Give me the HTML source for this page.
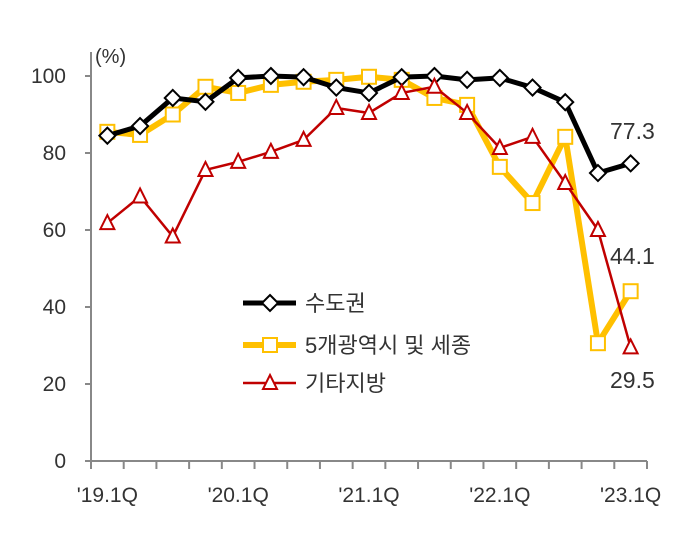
<!DOCTYPE html>
<html><head><meta charset="utf-8"><style>
html,body{margin:0;padding:0;background:#fff;}
svg{display:block;font-family:"Liberation Sans","Noto Sans CJK KR",sans-serif;}
</style></head><body>
<svg id="chart" width="691" height="537"></svg>
<script>
const categories=["'19.1Q","'19.2Q","'19.3Q","'19.4Q","'20.1Q","'20.2Q","'20.3Q","'20.4Q","'21.1Q","'21.2Q","'21.3Q","'21.4Q","'22.1Q","'22.2Q","'22.3Q","'22.4Q","'23.1Q"];
const capital=[84.5,87,94.3,93.3,99.5,100,99.7,97,95.6,99.7,100,99,99.5,97,93.2,74.8,77.3];
const metro=[85.5,84.7,90,97.2,95.6,97.7,98.5,99,99.8,99,94.3,92.5,76.4,67,84.2,30.6,44.1];
const other=[61.8,68.7,58.3,75.6,77.7,80.3,83.4,91.7,90.4,95.6,97.2,90.4,81.3,84.2,72.2,60,29.5];
const yTicks=[0,20,40,60,80,100];
const xLabelIdx=[0,4,8,12,16];

const NS="http://www.w3.org/2000/svg";
const svg=document.getElementById('chart');
const x0=91,x1=647,yBase=461,yTop=76;
const step=(x1-x0)/categories.length;
const X=i=>x0+step*(i+0.5);
const Y=v=>yBase-(yBase-yTop)*v/100;
function mk(tag,attrs,parent){const e=document.createElementNS(NS,tag);for(const k in attrs)e.setAttribute(k,attrs[k]);(parent||svg).appendChild(e);return e;}

const axis=mk('g',{});


const yl=mk('line',{x1:x0,y1:52,x2:x0,y2:yBase,stroke:'#888','stroke-width':2},axis);


const xl=mk('line',{x1:x0-6,y1:yBase,x2:x1,y2:yBase,stroke:'#888','stroke-width':2},axis);


yTicks.forEach(v=>{
  const t=mk('line',{x1:x0-6,y1:Y(v),x2:x0,y2:Y(v),stroke:'#888','stroke-width':2},axis);
  
  
  const tx=mk('text',{x:66,y:Y(v)+7,'text-anchor':'end','font-size':21,fill:'#333'},axis);
  tx.textContent=v;
  
  
});
for(let i=0;i<=categories.length;i++){
  const t=mk('line',{x1:x0+step*i,y1:yBase,x2:x0+step*i,y2:yBase+8,stroke:'#888','stroke-width':2},axis);
  
  
}
xLabelIdx.forEach(i=>{
  const tx=mk('text',{x:X(i),y:502,'text-anchor':'middle','font-size':21,fill:'#333'},axis);
  tx.textContent=categories[i];
  
  
});
const unit=mk('text',{x:95,y:63,'font-size':20,fill:'#333'});
unit.textContent='(%)';



function marker(g,type,cx,cy,color){
  let e;
  if(type==='diamond')e=mk('polygon',{points:`${cx},${cy-8} ${cx+8},${cy} ${cx},${cy+8} ${cx-8},${cy}`,fill:'#fff',stroke:'#000','stroke-width':2},g);
  else if(type==='square')e=mk('rect',{x:cx-7,y:cy-7,width:14,height:14,fill:'#fff',stroke:color,'stroke-width':2},g);
  else e=mk('polygon',{points:`${cx},${cy-8} ${cx+7},${cy+6} ${cx-7},${cy+6}`,fill:'#fff',stroke:color,'stroke-width':2},g);
  return e;
}
function series(name,data,color,w,type){
  const g=mk('g',{});
  
  
  const p=mk('polyline',{points:data.map((v,i)=>X(i)+','+Y(v)).join(' '),fill:'none',stroke:color,'stroke-width':w,'stroke-linejoin':'round'},g);
  
  
  data.forEach((v,i)=>{
    const m=marker(g,type,X(i),Y(v),color);
    
    
  });
}
series('metro-series',metro,'#FFC000',6,'square');
series('capital-series',capital,'#000',5,'diamond');
series('other-series',other,'#C00000',2.5,'triangle');

function endLabel(v,yy){const t=mk('text',{x:610,y:yy,'font-size':23,fill:'#333'});t.textContent=v;}
endLabel(capital[16].toFixed(1),139);
endLabel(metro[16].toFixed(1),264);
endLabel(other[16].toFixed(1),388);

const lg=mk('g',{});


const entries=[['수도권','#000',5,'diamond',303],['5개광역시 및 세종','#FFC000',6,'square',345],['기타지방','#C00000',2.5,'triangle',383]];
entries.forEach(e=>{
  const g=mk('g',{},lg);
  
  
  mk('line',{x1:243,y1:e[4],x2:296,y2:e[4],stroke:e[1],'stroke-width':e[2]},g);
  marker(g,e[3],270,e[4],e[1]);
  const t=mk('text',{x:305,y:e[4]+8,'font-size':22,fill:'#333'},g);
  t.textContent=e[0];
});
</script>
</body></html>
